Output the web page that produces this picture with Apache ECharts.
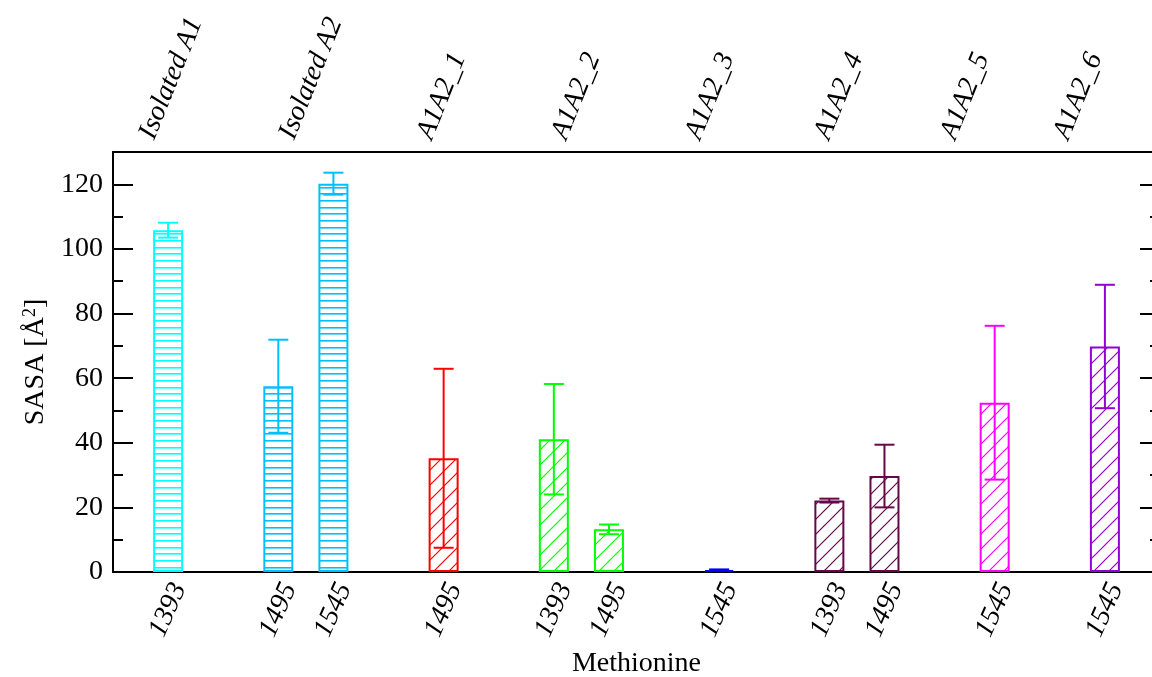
<!DOCTYPE html>
<html>
<head>
<meta charset="utf-8">
<script src="https://cdn.jsdelivr.net/npm/echarts@6/dist/echarts.min.js"></script>
<style>
  html, body { margin: 0; padding: 0; background: #fff; }
  #chart { width: 1152px; height: 677px; }
</style>
</head>
<body>
<div id="chart"></div>
<script>
// 数据
const groups = ['Isolated A1', 'Isolated A2', 'A1A2_1', 'A1A2_2', 'A1A2_3', 'A1A2_4', 'A1A2_5', 'A1A2_6']
const residues = [['1393'], ['1495', '1545'], ['1495'], ['1393', '1495'], ['1545'], ['1393', '1495'], ['1545'], ['1545']]
const sasa = [[105.8], [57.5, 120.2], [35.2], [41.1, 13.2], [0.6], [22.1, 29.7], [52.4], [69.8]]
const sasaErr = [[2.3], [14.4, 3.4], [27.7], [17.1, 1.5], [0.2], [0.6, 9.7], [23.8], [19.1]]
const yTicks = [0, 20, 40, 60, 80, 100, 120]
// 顶部刻度（组名）在 x 轴上的位置
const topTickValues = [0.62, 3.16, 5.66, 8.1, 10.53, 12.87, 15.16, 17.21]

// 样式
const groupColors = ['#00ffff', '#00bfff', '#ff0000', '#00ff00', '#0000ff', '#670748', '#ff00ff', '#9400d3']
const hatchKind = ['h', 'h', 'd', 'd', 'd', 'd', 'd', 'd']
const font = 'Liberation Serif'

// 填充图案
function makePattern (color, kind) {
  const c = document.createElement('canvas')
  const ctx = c.getContext('2d')
  if (kind === 'h') {
    c.width = 4
    c.height = 20
    ctx.fillStyle = color
    ;[0, 7, 13].forEach(y => ctx.fillRect(0, y, 4, 1.6))
  } else {
    const s = 15
    c.width = s
    c.height = s
    ctx.strokeStyle = color
    ctx.lineWidth = 1.2
    ctx.beginPath()
    ctx.moveTo(0, s); ctx.lineTo(s, 0)
    ctx.moveTo(-4, 4); ctx.lineTo(4, -4)
    ctx.moveTo(s - 4, s + 4); ctx.lineTo(s + 4, s - 4)
    ctx.stroke()
  }
  return { image: c, repeat: 'repeat' }
}

// 位置：组内相邻，组间空一格
const barData = []
const errData = []
const labelAt = {}
let pos = -1
groups.forEach((g, gi) => {
  pos += 1
  residues[gi].forEach((r, ri) => {
    pos += 1
    labelAt[pos] = r
    barData.push({
      value: [pos, sasa[gi][ri]],
      itemStyle: { color: makePattern(groupColors[gi], hatchKind[gi]), borderColor: groupColors[gi] }
    })
    errData.push([pos, sasa[gi][ri], sasaErr[gi][ri], gi])
  })
})
const xMax = pos + 1
const groupAt = {}
topTickValues.forEach((v, i) => { groupAt[v] = groups[i] })

const chart = echarts.init(document.getElementById('chart'))

const yCommon = {
  type: 'value',
  min: 0,
  max: 130,
  splitLine: { show: false },
  axisLine: { show: true, lineStyle: { color: '#000', width: 2 } },
  axisTick: { show: true, inside: true, length: 20, lineStyle: { color: '#000', width: 2 } },
  axisLabel: { show: false }
}

const option = {
  animation: false,
  backgroundColor: '#fff',
  grid: { left: 113, right: -8, top: 152, bottom: 105, containLabel: false, outerBoundsMode: 'none' },
  xAxis: [
    {
      type: 'value',
      position: 'bottom',
      min: 0,
      max: xMax,
      splitLine: { show: false },
      axisLine: { show: true, onZero: false, lineStyle: { color: '#000', width: 2 } },
      axisTick: { show: false },
      axisLabel: {
        customValues: Object.keys(labelAt).map(Number),
        formatter: v => labelAt[v] || '',
        rotate: 66,
        align: 'center',
        verticalAlign: 'middle',
        margin: 38,
        fontFamily: font,
        fontStyle: 'italic',
        fontSize: 28,
        color: '#000'
      },
      name: 'Methionine',
      nameLocation: 'middle',
      nameGap: 78,
      nameTextStyle: { fontFamily: font, fontSize: 28, color: '#000' }
    },
    {
      type: 'value',
      position: 'top',
      min: 0,
      max: xMax,
      splitLine: { show: false },
      axisLine: { show: true, onZero: false, lineStyle: { color: '#000', width: 2 } },
      axisTick: { show: false },
      axisLabel: {
        customValues: topTickValues,
        formatter: v => groupAt[v] || '',
        rotate: -68,
        align: 'left',
        verticalAlign: 'middle',
        margin: 14,
        fontFamily: font,
        fontStyle: 'italic',
        fontSize: 28,
        color: '#000'
      }
    }
  ],
  yAxis: [
    Object.assign({}, yCommon, {
      position: 'left',
      interval: 20,
      axisLabel: {
        show: true,
        margin: 10,
        fontFamily: font,
        fontSize: 28,
        color: '#000',
        formatter: v => (yTicks.indexOf(v) >= 0 ? String(v) : '')
      },
      name: '{t|SASA [Å}{s|2}{t|]}',
      nameLocation: 'middle',
      nameGap: 62,
      nameTextStyle: {
        rich: {
          t: { fontFamily: font, fontSize: 28, color: '#000' },
          s: { fontFamily: font, fontSize: 18, color: '#000', verticalAlign: 'top', padding: [0, 0, 12, 0] }
        }
      }
    }),
    Object.assign({}, yCommon, {
      position: 'left', interval: 10, axisLine: { show: false },
      axisTick: { show: true, inside: true, length: 10, lineStyle: { color: '#000', width: 2 } }
    }),
    Object.assign({}, yCommon, { position: 'right', interval: 20 }),
    Object.assign({}, yCommon, {
      position: 'right', interval: 10, axisLine: { show: false },
      axisTick: { show: true, inside: true, length: 10, lineStyle: { color: '#000', width: 2 } }
    })
  ],
  series: [
    {
      type: 'bar',
      xAxisIndex: 0,
      yAxisIndex: 0,
      barWidth: 30,
      data: barData,
      itemStyle: { borderWidth: 2 },
      z: 2
    },
    {
      type: 'custom',
      xAxisIndex: 0,
      yAxisIndex: 0,
      z: 3,
      data: errData,
      renderItem: (params, api) => {
        const x = api.value(0)
        const y = api.value(1)
        const e = api.value(2)
        const color = groupColors[api.value(3)]
        const top = api.coord([x, y + e])
        const bot = api.coord([x, y - e])
        const hw = 10
        const style = { stroke: color, lineWidth: 2 }
        return {
          type: 'group',
          children: [
            { type: 'line', shape: { x1: top[0], y1: top[1], x2: bot[0], y2: bot[1] }, style },
            { type: 'line', shape: { x1: top[0] - hw, y1: top[1], x2: top[0] + hw, y2: top[1] }, style },
            { type: 'line', shape: { x1: bot[0] - hw, y1: bot[1], x2: bot[0] + hw, y2: bot[1] }, style }
          ]
        }
      }
    }
  ]
}

chart.setOption(option)
window.addEventListener('resize', chart.resize)
</script>
</body>
</html>
